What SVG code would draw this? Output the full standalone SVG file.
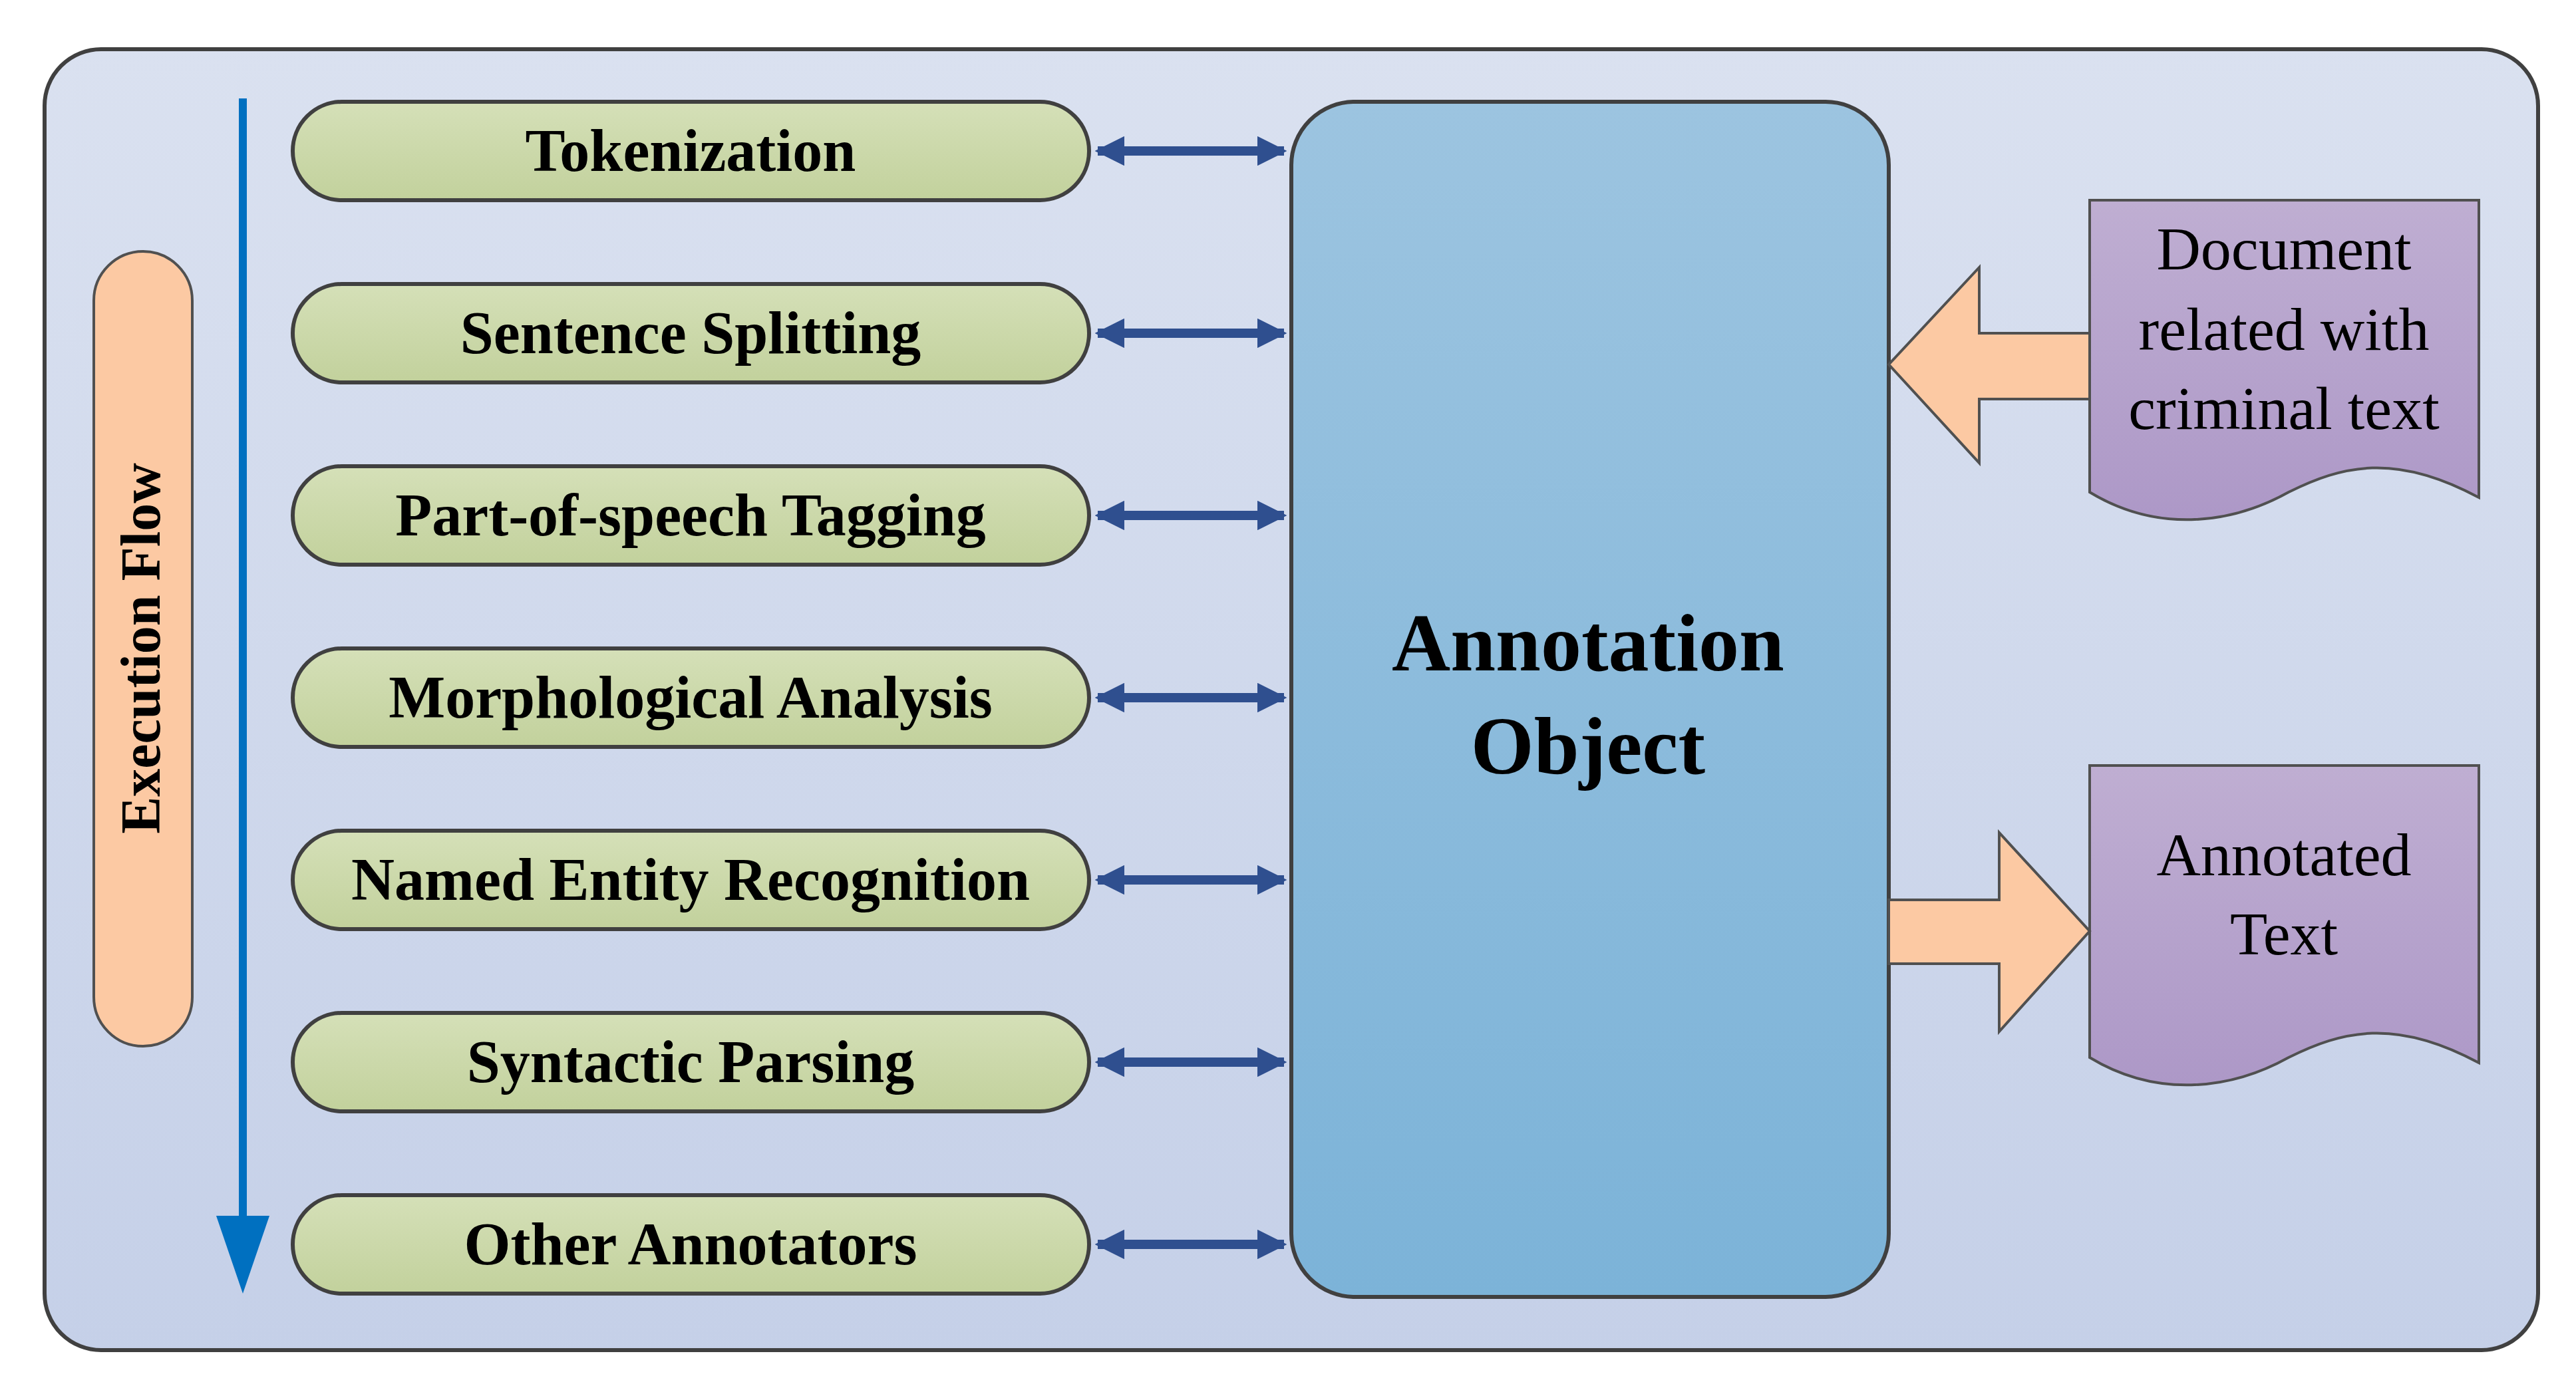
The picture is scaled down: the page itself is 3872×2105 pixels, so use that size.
<svg xmlns="http://www.w3.org/2000/svg" width="3872" height="2105" viewBox="0 0 3872 2105">
<defs>
<linearGradient id="bg" x1="0" y1="0" x2="0" y2="1"><stop offset="0" stop-color="#dae1f0"/><stop offset="1" stop-color="#c5d0e8"/></linearGradient>
<linearGradient id="gr" x1="0" y1="0" x2="0" y2="1"><stop offset="0" stop-color="#d5e0b8"/><stop offset="1" stop-color="#c2d19c"/></linearGradient>
<linearGradient id="bl" x1="0" y1="0" x2="0" y2="1"><stop offset="0" stop-color="#9cc4e0"/><stop offset="1" stop-color="#7cb3d8"/></linearGradient>
<linearGradient id="pu" x1="0" y1="0" x2="0" y2="1"><stop offset="0" stop-color="#bfaed2"/><stop offset="1" stop-color="#ad98c7"/></linearGradient>
<marker id="ah" viewBox="0 0 10 10" refX="9" refY="5" markerWidth="3.2" markerHeight="3.2" orient="auto-start-reverse"><path d="M0,0 L10,5 L0,10 Z" fill="#2f4f8f"/></marker>
</defs>
<style>
.pill{fill:url(#gr);stroke:#404040;stroke-width:6}
.t{font-family:"Liberation Serif",serif;font-weight:bold;font-size:90px;text-anchor:middle;fill:#000}
.d{font-family:"Liberation Serif",serif;font-size:92px;text-anchor:middle;fill:#000}
.c{stroke:#2f4f8f;stroke-width:14;fill:none;marker-start:url(#ah);marker-end:url(#ah)}
.fat{fill:#fcc9a3;stroke:#505050;stroke-width:4}
</style>
<rect width="3872" height="2105" fill="#fff"/>
<g id="frame"><rect x="67" y="74" width="3748" height="1956" rx="85" fill="url(#bg)" stroke="#404040" stroke-width="6"/></g>
<g id="execution-flow">
<rect x="141" y="378" width="148" height="1195" rx="74" fill="#fcc9a3" stroke="#505050" stroke-width="4"/>
<text class="t" transform="translate(240,975) rotate(-90)" style="font-size:84px">Execution Flow</text>
<line x1="365" y1="148" x2="365" y2="1840" stroke="#0070c0" stroke-width="12"/>
<path d="M325,1828 L405,1828 L365,1945 Z" fill="#0070c0"/>
</g>
<g id="tokenization"><rect class="pill" x="440" y="153" width="1197" height="148" rx="74"/><text class="t" x="1038" y="257">Tokenization</text></g>
<g id="sentence-splitting"><rect class="pill" x="440" y="427" width="1197" height="148" rx="74"/><text class="t" x="1038" y="531">Sentence Splitting</text></g>
<g id="pos-tagging"><rect class="pill" x="440" y="701" width="1197" height="148" rx="74"/><text class="t" x="1038" y="805">Part-of-speech Tagging</text></g>
<g id="morph"><rect class="pill" x="440" y="975" width="1197" height="148" rx="74"/><text class="t" x="1038" y="1079">Morphological Analysis</text></g>
<g id="ner"><rect class="pill" x="440" y="1249" width="1197" height="148" rx="74"/><text class="t" x="1038" y="1353">Named Entity Recognition</text></g>
<g id="parsing"><rect class="pill" x="440" y="1523" width="1197" height="148" rx="74"/><text class="t" x="1038" y="1627">Syntactic Parsing</text></g>
<g id="other"><rect class="pill" x="440" y="1797" width="1197" height="148" rx="74"/><text class="t" x="1038" y="1901">Other Annotators</text></g>
<g id="annotation-object"><rect x="1941" y="153" width="898" height="1797" rx="95" fill="url(#bl)" stroke="#404040" stroke-width="6"/>
<text class="t" x="2387" y="1008" style="font-size:122px">Annotation</text><text class="t" x="2387" y="1163" style="font-size:122px">Object</text></g>
<g id="document"><path d="M3141,301 L3726,301 L3726,748 C3600,680 3520,700 3440,740 C3350,790 3240,800 3141,740 Z" fill="url(#pu)" stroke="#505050" stroke-width="4"/>
<text class="d" x="3433" y="405">Document</text><text class="d" x="3433" y="526">related with</text><text class="d" x="3433" y="645">criminal text</text></g>
<g id="annotated-text"><path d="M3141,1151 L3726,1151 L3726,1598 C3600,1530 3520,1550 3440,1590 C3350,1640 3240,1650 3141,1590 Z" fill="url(#pu)" stroke="#505050" stroke-width="4"/>
<text class="d" x="3433" y="1316">Annotated</text><text class="d" x="3433" y="1435">Text</text></g>
<g id="connectors">
<line class="c" x1="1650" y1="227" x2="1930" y2="227"/>
<line class="c" x1="1650" y1="501" x2="1930" y2="501"/>
<line class="c" x1="1650" y1="775" x2="1930" y2="775"/>
<line class="c" x1="1650" y1="1049" x2="1930" y2="1049"/>
<line class="c" x1="1650" y1="1323" x2="1930" y2="1323"/>
<line class="c" x1="1650" y1="1597" x2="1930" y2="1597"/>
<line class="c" x1="1650" y1="1871" x2="1930" y2="1871"/>
<path class="fat" d="M3141,501 L2975,501 L2975,402 L2839,548 L2975,696 L2975,600 L3141,600 Z"/>
<path class="fat" d="M2839,1353 L3005,1353 L3005,1252 L3141,1400 L3005,1551 L3005,1449 L2839,1449 Z"/>
</g>
</svg>
